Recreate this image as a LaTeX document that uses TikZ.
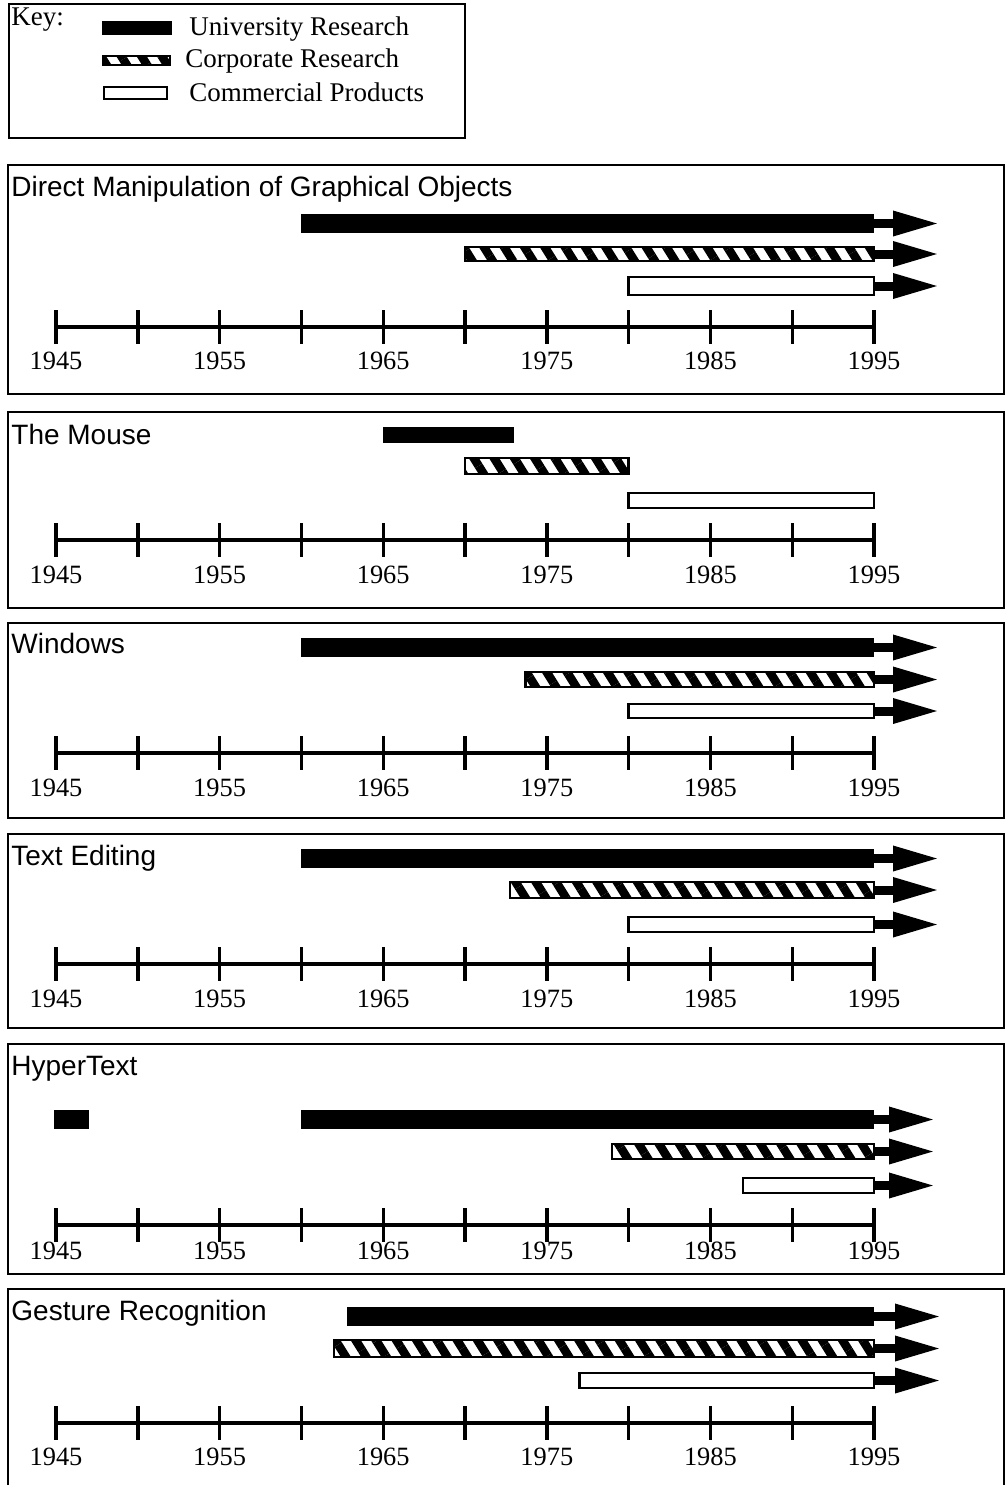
\documentclass[tikz,border=0pt]{standalone}
\usepackage{fontspec}
\setmainfont{Liberation Serif}
\setsansfont{Liberation Sans}
\usetikzlibrary{
  arrows.meta,
  patterns.meta,
}
\tikzset{
  >={Triangle[length=23.5pt,width=11.5pt]},
  panel/.style={draw,line width=0.9pt},
  heading/.style={anchor=base west,inner sep=0,font=\sffamily\fontsize{14}{17}\selectfont},
  yearlabel/.style={anchor=base,inner sep=0,font=\fontsize{13.2}{16}\selectfont},
  keytext/.style={anchor=base west,inner sep=0,font=\fontsize{13.5}{16}\selectfont},
  yrs/.style 2 args={minimum width={(#2-#1)*8.18pt}},
  unibar/.style={rectangle,fill=black,inner sep=0,outer sep=0,anchor=west},
  corpbar/.style={rectangle,draw,line width=1.2pt,inner sep=0,outer sep=0,anchor=west,
    pattern={Lines[angle=-58,distance=8.6pt,line width=4.3pt]}},
  combar/.style={rectangle,draw,line width=1.2pt,fill=white,inner sep=0,outer sep=0,anchor=west},
  trend/.style={->,line width=4.5pt},
  axisline/.style={line width=1.7pt},
}
% time axis: name, axis y, label baseline y
\newcommand{\timeaxis}[3]{
  \draw[axisline] ({yx(1945)},#2) -- ({yx(1995)},#2);
  \foreach \yy in {1945,1950,...,1995}
    \draw[axisline] ({yx(\yy)},#2-17) -- ({yx(\yy)},#2+17);
  \foreach \yy in {1945,1955,...,1995}
    \node[yearlabel] (#1-\yy) at ({yx(\yy)},#3) {\yy};
}

\begin{document}
\begin{tikzpicture}[x=0.5pt,y=-0.5pt,declare function={yx(\a)=56+(\a-1945)*16.36;}]
  \useasboundingbox (0,0) rectangle (1006,1485);

  % key
  \draw[panel] (9,4) rectangle (465,138);
  \node[keytext] (key) at (11,25) {Key:};
  \node[unibar,minimum width=35pt,minimum height=7pt] (key-uni) at (102,28) {};
  \node[corpbar,minimum width=33.3pt,minimum height=4.3pt] (key-corp) at (103.2,60.5) {};
  \node[combar,minimum width=31.3pt,minimum height=5.8pt] (key-com) at (104.2,93) {};
  \node[keytext] (key-unitext) at (189,35) {University Research};
  \node[keytext] (key-corptext) at (185,67) {Corporate Research};
  \node[keytext] (key-comtext) at (189,101) {Commercial Products};

  % direct manipulation
  \draw[panel] (8,165) rectangle (1004,394);
  \node[heading] (dm) at (11,196) {Direct Manipulation of Graphical Objects};
  \node[unibar,yrs={1960}{1995},minimum height=9.5pt] (dm-uni) at ({yx(1960)},223.5) {};
  \node[corpbar,yrs={1970}{1995},minimum height=6.8pt] (dm-corp) at ({yx(1970)},254) {};
  \node[combar,yrs={1980}{1995},minimum height=8.8pt] (dm-com) at ({yx(1980)},286) {};
  \draw[trend] (dm-uni.east) -- ++(66,0);
  \draw[trend] (dm-corp.east) -- ++(66,0);
  \draw[trend] (dm-com.east) -- ++(66,0);
  \timeaxis{dm}{327}{369}

  % mouse
  \draw[panel] (8,412) rectangle (1004,608);
  \node[heading] (ms) at (11,444) {The Mouse};
  \node[unibar,yrs={1965}{1973},minimum height=8pt] (ms-uni) at ({yx(1965)},435) {};
  \node[corpbar,yrs={1970}{1980},minimum height=7.8pt] (ms-corp) at ({yx(1970)},466) {};
  \node[combar,yrs={1980}{1995},minimum height=7.3pt] (ms-com) at ({yx(1980)},500.5) {};
  \timeaxis{ms}{540}{583}

  % windows
  \draw[panel] (8,623) rectangle (1004,818);
  \node[heading] (win) at (11,653) {Windows};
  \node[unibar,yrs={1960}{1995},minimum height=9.5pt] (win-uni) at ({yx(1960)},647.5) {};
  \node[corpbar,yrs={1973.7}{1995},minimum height=7.3pt] (win-corp) at ({yx(1973.7)},679.5) {};
  \node[combar,yrs={1980}{1995},minimum height=6.8pt] (win-com) at ({yx(1980)},711) {};
  \draw[trend] (win-uni.east) -- ++(66,0);
  \draw[trend] (win-corp.east) -- ++(66,0);
  \draw[trend] (win-com.east) -- ++(66,0);
  \timeaxis{win}{753}{796}

  % text editing
  \draw[panel] (8,834) rectangle (1004,1028);
  \node[heading] (te) at (11,865) {Text Editing};
  \node[unibar,yrs={1960}{1995},minimum height=9.5pt] (te-uni) at ({yx(1960)},858.5) {};
  \node[corpbar,yrs={1972.75}{1995},minimum height=7.8pt] (te-corp) at ({yx(1972.75)},890) {};
  \node[combar,yrs={1980}{1995},minimum height=7.3pt] (te-com) at ({yx(1980)},924.5) {};
  \draw[trend] (te-uni.east) -- ++(66,0);
  \draw[trend] (te-corp.east) -- ++(66,0);
  \draw[trend] (te-com.east) -- ++(66,0);
  \timeaxis{te}{964}{1007}

  % hypertext
  \draw[panel] (8,1044) rectangle (1004,1274);
  \node[heading] (ht) at (11,1075) {HyperText};
  \node[unibar,yrs={1944.9}{1947},minimum height=9.5pt] (ht-memex) at ({yx(1944.9)},1119.5) {};
  \node[unibar,yrs={1960}{1995},minimum height=9.5pt] (ht-uni) at ({yx(1960)},1119.5) {};
  \node[corpbar,yrs={1979}{1995},minimum height=7.3pt] (ht-corp) at ({yx(1979)},1151.5) {};
  \node[combar,yrs={1987}{1995},minimum height=7.3pt] (ht-com) at ({yx(1987)},1185.5) {};
  \draw[trend] (ht-uni.east) -- ++(62,0);
  \draw[trend] (ht-corp.east) -- ++(62,0);
  \draw[trend] (ht-com.east) -- ++(62,0);
  \timeaxis{ht}{1225}{1259}

  % gesture recognition
  \draw[panel] (8,1485) -- (8,1289) -- (1004,1289) -- (1004,1485);
  \node[heading] (gr) at (11,1320) {Gesture Recognition};
  \node[unibar,yrs={1962.8}{1995},minimum height=9.5pt] (gr-uni) at ({yx(1962.8)},1316.5) {};
  \node[corpbar,yrs={1962}{1995},minimum height=8.3pt] (gr-corp) at ({yx(1962)},1348.5) {};
  \node[combar,yrs={1977}{1995},minimum height=7.3pt] (gr-com) at ({yx(1977)},1380.5) {};
  \draw[trend] (gr-uni.east) -- ++(68,0);
  \draw[trend] (gr-corp.east) -- ++(68,0);
  \draw[trend] (gr-com.east) -- ++(68,0);
  \timeaxis{gr}{1423}{1465}
\end{tikzpicture}
\end{document}
